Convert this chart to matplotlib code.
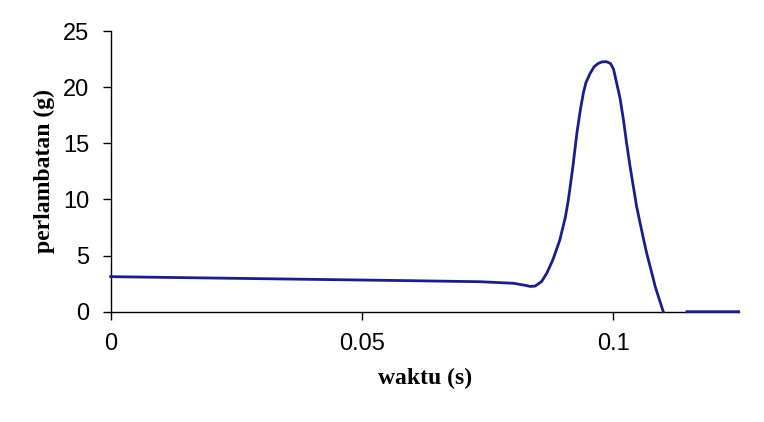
import matplotlib.pyplot as plt
import numpy as np

# waktu (s) vs perlambatan (g)
waktu = [0.0, 0.020, 0.040, 0.060, 0.0735, 0.0802, 0.0825, 0.0835, 0.0845,
         0.0858, 0.0868, 0.0880, 0.0894, 0.0905, 0.0911, 0.0920, 0.0928,
         0.0935, 0.0941, 0.0946, 0.0954, 0.0962, 0.0970, 0.0978, 0.0987,
         0.0995, 0.1001, 0.1007, 0.1014, 0.1021, 0.1027, 0.1034, 0.1047,
         0.1060, 0.1067, 0.1078, 0.1084, 0.1092, 0.1100, 0.1125, 0.1147, 0.1250]
perlambatan = [3.12, 3.00, 2.88, 2.76, 2.67, 2.53, 2.35, 2.25, 2.28,
               2.70, 3.42, 4.60, 6.38, 8.40, 9.95, 12.9, 15.9,
               18.0, 19.5, 20.4, 21.2, 21.8, 22.1, 22.25, 22.27,
               22.1, 21.6, 20.4, 19.0, 17.0, 15.0, 12.9, 9.35,
               6.6, 5.2, 3.3, 2.23, 1.1, 0.0, np.nan, 0.0, 0.0]

xticks = [0, 0.05, 0.1]
xticklabels = ['0', '0.05', '0.1']
yticks = [0, 5, 10, 15, 20, 25]

fig = plt.figure(figsize=(7.64, 4.22), dpi=100)
ax = fig.add_axes([0.1449, 0.2614, 0.8219, 0.6651])

ax.plot(waktu, perlambatan, color='#1c1c8a', linewidth=2.0, clip_on=False, zorder=3,
        solid_joinstyle='round')

ax.set_xlim(0, 0.125)
ax.set_ylim(0, 25)
ax.set_xticks(xticks)
ax.set_xticklabels(xticklabels)
ax.set_yticks(yticks)

for s in ['top', 'right']:
    ax.spines[s].set_visible(False)
for s in ['left', 'bottom']:
    ax.spines[s].set_linewidth(1.0)
    ax.spines[s].set_zorder(2)

ax.tick_params(direction='out', length=5.5, width=1.0, labelsize=17, pad=10)
for lbl in ax.get_xticklabels() + ax.get_yticklabels():
    lbl.set_fontfamily('Liberation Sans')

ax.set_xlabel('waktu (s)', fontsize=17, fontweight='bold', family='Liberation Serif', labelpad=9)
ax.set_ylabel('perlambatan (g)', fontsize=17, fontweight='bold', family='Liberation Serif', labelpad=6)

fig.savefig('out.png', dpi=100)
